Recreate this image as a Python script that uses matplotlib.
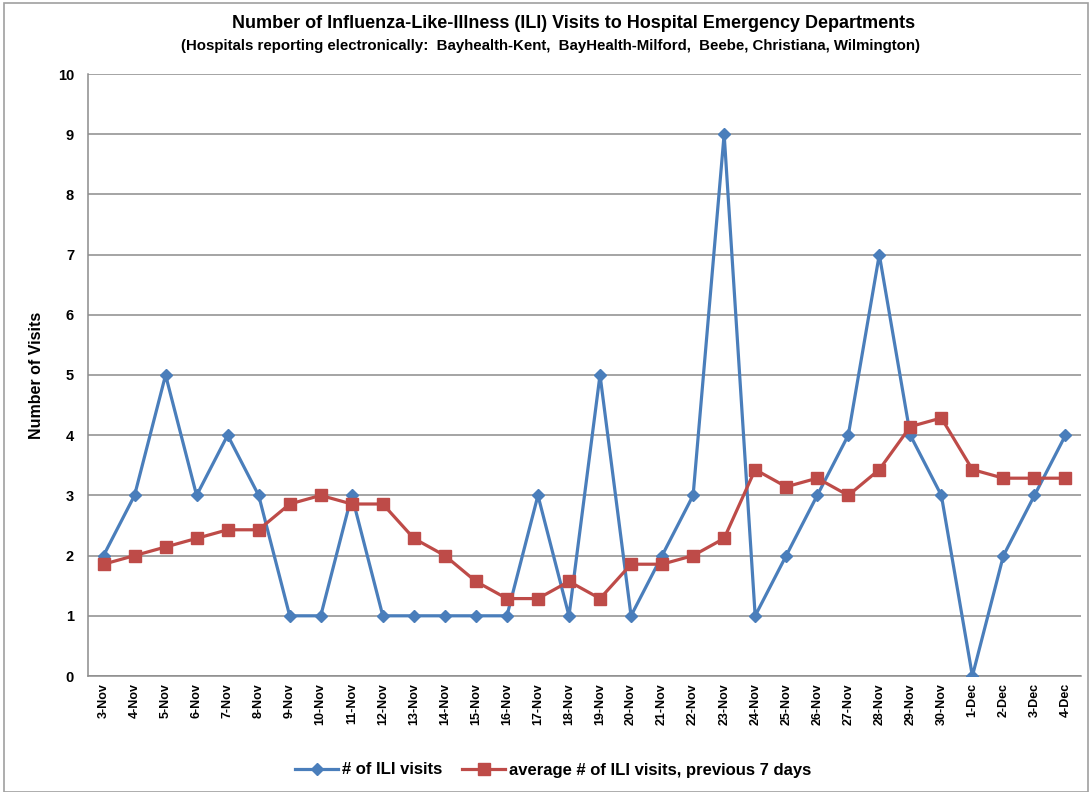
import matplotlib
matplotlib.use("Agg")
import matplotlib.pyplot as plt
from matplotlib.patches import Rectangle

plt.rcParams['font.family'] = ['Liberation Sans', 'DejaVu Sans']

dates = ["3-Nov", "4-Nov", "5-Nov", "6-Nov", "7-Nov", "8-Nov", "9-Nov", "10-Nov",
         "11-Nov", "12-Nov", "13-Nov", "14-Nov", "15-Nov", "16-Nov", "17-Nov", "18-Nov",
         "19-Nov", "20-Nov", "21-Nov", "22-Nov", "23-Nov", "24-Nov", "25-Nov", "26-Nov",
         "27-Nov", "28-Nov", "29-Nov", "30-Nov", "1-Dec", "2-Dec", "3-Dec", "4-Dec"]
ili_visits = [2, 3, 5, 3, 4, 3, 1, 1, 3, 1, 1, 1, 1, 1, 3, 1,
              5, 1, 2, 3, 9, 1, 2, 3, 4, 7, 4, 3, 0, 2, 3, 4]
avg_7day = [1.857, 2.0, 2.143, 2.286, 2.429, 2.429, 2.857, 3.0,
            2.857, 2.857, 2.286, 2.0, 1.571, 1.286, 1.286, 1.571,
            1.286, 1.857, 1.857, 2.0, 2.286, 3.429, 3.143, 3.286,
            3.0, 3.429, 4.143, 4.286, 3.429, 3.286, 3.286, 3.286]
yticks = list(range(0, 11))

W, H = 1090, 792
fig = plt.figure(figsize=(W / 100, H / 100), dpi=100)
ax = fig.add_axes([88 / W, 1 - 676 / H, (1081 - 88) / W, (676 - 74) / H])

x = list(range(len(dates)))
ax.plot(x, ili_visits, color='#4A7EBB', lw=2.3, marker='D', ms=6.5,
        label='# of ILI visits', zorder=3)
ax.plot(x, avg_7day, color='#BE4B48', lw=2.3, marker='s', ms=8,
        label='average # of ILI visits, previous 7 days', zorder=4)

ax.set_xlim(-0.5, len(dates) - 0.5)
ax.set_ylim(0, 10)
ax.set_yticks(yticks)
ax.set_yticklabels([str(v) for v in yticks], fontsize=10.5, fontweight='bold')
ax.set_xticks(x)
ax.set_xticklabels(dates, rotation=90, fontsize=9, fontweight='bold')
ax.tick_params(axis='x', length=0, pad=5)
ax.tick_params(axis='y', length=0, pad=10)
ax.grid(axis='y', color='#8c8c8c', lw=1.1)
ax.set_axisbelow(True)
for s in ['top', 'right']:
    ax.spines[s].set_visible(False)
for s in ['left', 'bottom']:
    ax.spines[s].set_color('#8c8c8c')
    ax.spines[s].set_linewidth(1.1)

ax.set_ylabel('Number of Visits', fontsize=11.5, fontweight='bold', labelpad=10)

fig.text(574 / W, 1 - 24 / H,
         'Number of Influenza-Like-Illness (ILI) Visits to Hospital Emergency Departments',
         ha='center', va='center', fontsize=13, fontweight='bold')
fig.text(551 / W, 1 - 46 / H,
         '(Hospitals reporting electronically:  Bayhealth-Kent,  BayHealth-Milford,  Beebe, Christiana, Wilmington)',
         ha='center', va='center', fontsize=10.8, fontweight='bold')

fig.legend(loc='center', bbox_to_anchor=(553 / W, 1 - 770 / H), ncol=2,
           frameon=False, prop={'size': 12, 'weight': 'bold'},
           handlelength=2.6, columnspacing=1.2, handletextpad=0.2)

fig.patches.append(Rectangle((4 / W, 0), (1088 - 4) / W, (H - 3) / H,
                             transform=fig.transFigure, fill=False,
                             edgecolor='#a0a0a0', lw=1.2))

fig.savefig('out.png', dpi=100)
